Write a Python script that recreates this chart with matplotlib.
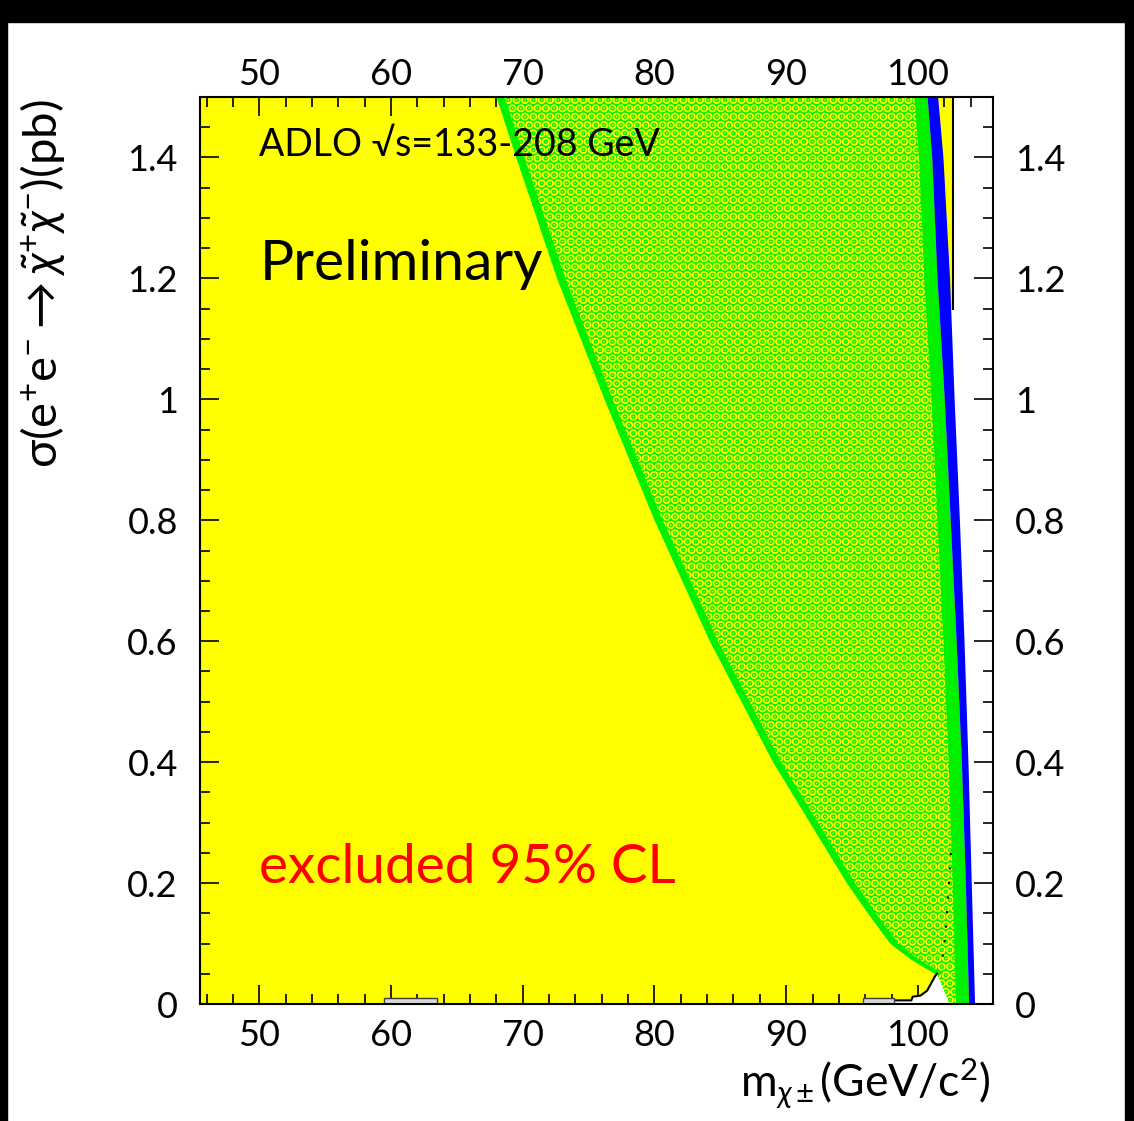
import numpy as np
import matplotlib.pyplot as plt
from matplotlib.patches import Rectangle

# chargino mass (GeV/c^2) vs cross-section (pb), boundaries
edge_y = [1.5, 1.4, 1.2, 1.0, 0.8, 0.6, 0.4, 0.2, 0.15, 0.1, 0.075, 0.05]
edge_x = [68.0, 69.5, 72.6, 76.2, 80.0, 84.2, 89.0, 94.6, 96.2, 97.9, 99.4, 101.3]

blue_y = [1.5, 1.4, 1.2, 1.0, 0.8, 0.6, 0.4, 0.2, 0.0]
blue_lo = [100.7, 101.05, 101.45, 102.0, 102.45, 102.9, 103.3, 103.6, 103.85]
blue_hi = [101.5, 101.9, 102.4, 102.75, 103.15, 103.5, 103.8, 104.05, 104.3]

kin_x = 102.65      # vertical limit line at the top
kin_ymin = 1.15

# low-sigma white corner near the kinematic limit
hole_x = [98.2, 99.5, 99.6, 100.2, 100.7, 101.0, 101.3, 101.45, 102.4]
hole_y = [0.006, 0.006, 0.012, 0.014, 0.022, 0.034, 0.046, 0.05, 0.0]
grey_boxes = [(59.5, 63.5), (95.8, 98.2)]

dot_x = [102.5, 102.3, 102.1, 101.85]
dot_y = [0.25, 0.18, 0.12, 0.07]

xticks = [50, 60, 70, 80, 90, 100]
yticks = [0, 0.2, 0.4, 0.6, 0.8, 1.0, 1.2, 1.4]
ylabels = ['0', '0.2', '0.4', '0.6', '0.8', '1', '1.2', '1.4']

YEL = '#ffff00'
GRN = '#00f000'
BLU = '#0000ff'

plt.rcParams['font.family'] = ['Lato', 'DejaVu Sans']
plt.rcParams['mathtext.fontset'] = 'custom'
plt.rcParams['mathtext.rm'] = 'Lato'
plt.rcParams['mathtext.it'] = 'Lato:italic'
plt.rcParams['mathtext.fallback'] = 'stixsans'
plt.rcParams['hatch.linewidth'] = 4.5

fig = plt.figure(figsize=(11.34, 11.21), dpi=100)
ax = fig.add_axes([200/1134, 1 - 1004/1121, 793/1134, 907/1121])
xmin, xmax = 45.5, 105.7
ymin, ymax = 0.0, 1.5

# black frame of the scanned picture
fig.patches.append(Rectangle((0, 1 - 22/1121), 1, 22/1121, transform=fig.transFigure, color='black', zorder=-1))
fig.patches.append(Rectangle((0, 0), 7/1134, 1, transform=fig.transFigure, color='black', zorder=-1))
fig.patches.append(Rectangle((1 - 9/1134, 0), 9/1134, 1, transform=fig.transFigure, color='black', zorder=-1))

# excluded region
ax.fill_betweenx(blue_y, xmin, blue_lo, color=YEL, lw=0, zorder=1)
ax.fill_betweenx([kin_ymin, ymax], xmin, kin_x, color=YEL, lw=0, zorder=1)

# scan points region (green speckle)
gx = edge_x + [hole_x[-1]] + blue_lo[::-1]
gy = edge_y + [0.0] + blue_y[::-1]
ax.fill(gx, gy, facecolor=GRN, edgecolor=YEL, hatch='..', lw=0, zorder=2)
# denser green along the edges
ax.fill_betweenx(edge_y, edge_x, np.array(edge_x) + 0.6, color=GRN, lw=0, zorder=3)
ax.fill_betweenx(blue_y, np.array(blue_lo) - 1.0, blue_lo, color=GRN, lw=0, zorder=3)

ax.fill_betweenx(blue_y, blue_lo, blue_hi, color=BLU, lw=0, zorder=4)
ax.plot([kin_x, kin_x], [kin_ymin, ymax], color='black', lw=1.5, zorder=5)

ax.fill(hole_x + [hole_x[0]], hole_y + [0.0], color='white', lw=0, zorder=5)
ax.plot(hole_x[:-1], hole_y[:-1], color='black', lw=1.5, zorder=6)
for a, b in grey_boxes:
    ax.add_patch(Rectangle((a, 0), b - a, 0.01, facecolor='#d8d8d8', edgecolor='#404040', lw=1, zorder=6))
ax.plot(dot_x, dot_y, color='black', lw=1.5, ls=(0, (1, 6)), zorder=6)

ax.set_xlim(xmin, xmax)
ax.set_ylim(ymin, ymax)
ax.set_facecolor('white')
for s in ax.spines.values():
    s.set_linewidth(1.5)
    s.set_zorder(10)

ax.set_xticks(xticks)
ax.set_xticks(np.arange(46, 106, 2), minor=True)
ax.set_yticks(yticks)
ax.set_yticklabels(ylabels)
ax.set_yticks(np.arange(0, 1.5, 0.05), minor=True)
ax.tick_params(which='both', direction='in', top=True, right=True, width=1.2, labelsize=26)
ax.tick_params(which='major', length=14)
ax.tick_params(which='minor', length=7)
ax.tick_params(axis='x', pad=11)
ax.tick_params(axis='y', pad=16, labelright=True)

# top labels sit closer to the frame than the bottom ones
top = ax.secondary_xaxis('top')
top.set_xticks(xticks)
top.tick_params(length=0, labelsize=26, pad=4)
top.spines['top'].set_visible(False)

ax.text(50, 1.402, u'ADLO \u221as=133-208 GeV', fontsize=27, va='baseline', zorder=12)
ax.text(50, 1.198, 'Preliminary', fontsize=41, va='baseline', zorder=12)
ax.text(50, 0.200, 'excluded 95% CL', fontsize=39.5, color='#ff0000', va='baseline', zorder=12)

ax.set_xlabel(r'm$_{\chi\pm}$(GeV/c$^{2}$)', fontsize=32, loc='right')
ax.xaxis.set_label_coords(0.997, -0.058)
ax.set_ylabel(r'$\mathrm{\sigma}$(e$^{+}$e$^{-}$$\rightarrow$$\tilde{\chi}^{+}\tilde{\chi}^{-}$)(pb)', fontsize=34, loc='top')
ax.yaxis.set_label_coords(-0.168, 0.997)

fig.savefig('out.png', dpi=100, facecolor='white')
